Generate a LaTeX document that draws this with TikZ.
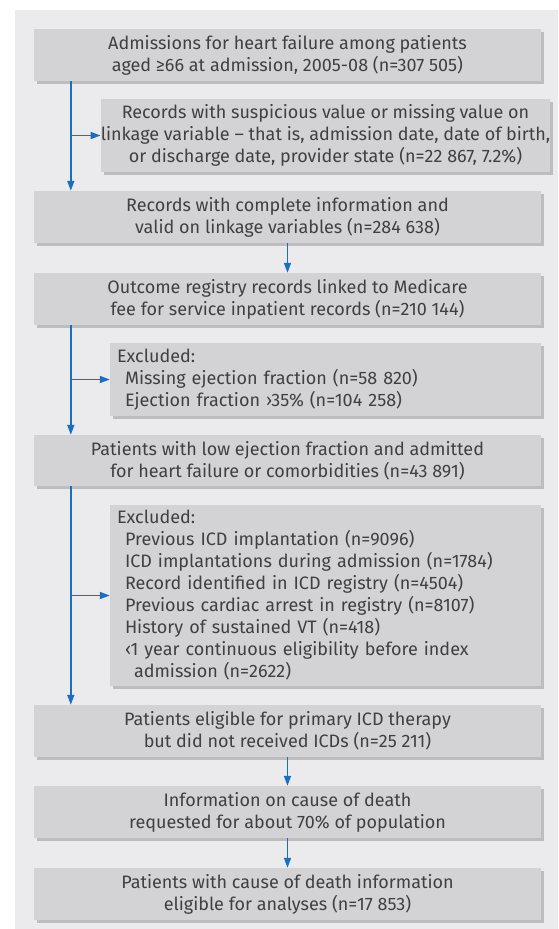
\documentclass[tikz,border=0pt]{standalone}
\usepackage{fontspec}
\setmainfont{Fira Sans}
\usepackage{tikz}
\usetikzlibrary{calc, shadows, arrows.meta}
\definecolor{panelgray}{HTML}{EBEBED}
\definecolor{boxgray}{HTML}{D3D3D5}
\definecolor{shadegray}{HTML}{BDBDBF}
\definecolor{textgray}{HTML}{404040}
\definecolor{arrowblue}{HTML}{1A6FBE}
\tikzset{%
	flowbox/.style={fill=boxgray, text=textgray, inner sep=0pt, minimum height=#1,
	drop shadow={shadow xshift=3pt, shadow yshift=-3pt, fill=shadegray, opacity=1},
	font=\fontsize{18}{22}\selectfont},
	mainbox/.style={flowbox=#1, minimum width=507pt, align=center},
	sidebox/.style={flowbox=#1, inner xsep=7pt, text width=417pt, align=left},
	flow/.style={draw=arrowblue, line width=1.6pt, -{Triangle[length=10pt,width=7pt]}}
}
\begin{document}
\begin{tikzpicture}[x=1pt, y=-1pt]
				\useasboundingbox (0,0) rectangle (558,929);
				\fill [panelgray] (15,10) rectangle (558,929);
				\node [mainbox=52pt] (admit) at (287.5,55) {Admissions for heart failure among patients\\aged ≥66 at admission, 2005-08 (n=307 505)};
				\node [flowbox=73pt, minimum width=431pt, align=center] (suspect) at (325.5,135.5) {Records with suspicious value or missing value on\\linkage variable – that is, admission date, date of birth,\\or discharge date, provider state (n=22 867, 7.2\%)};
				\node [mainbox=52pt] (valid) at (287.5,217) {Records with complete information and\\valid on linkage variables (n=284 638)};
				\node [mainbox=52pt] (linked) at (287.5,299) {Outcome registry records linked to Medicare\\fee for service inpatient records (n=210 144)};
				\node [sidebox=73pt] (exclA) at (325.5,379.5) {Excluded:\\\hspace*{8pt}Missing ejection fraction (n=58 820)\\\hspace*{8pt}Ejection fraction ›35\% (n=104 258)};
				\node [mainbox=51pt] (lowef) at (287.5,460.5) {Patients with low ejection fraction and admitted\\for heart failure or comorbidities (n=43 891)};
				\node [sidebox=181pt] (exclB) at (325.5,595.5) {Excluded:\\\hspace*{8pt}Previous ICD implantation (n=9096)\\\hspace*{8pt}ICD implantations during admission (n=1784)\\\hspace*{8pt}Record identified in ICD registry (n=4504)\\\hspace*{8pt}Previous cardiac arrest in registry (n=8107)\\\hspace*{8pt}History of sustained VT (n=418)\\\hspace*{8pt}‹1 year continuous eligibility before index\\\hspace*{17pt}admission (n=2622)};
				\node [mainbox=52pt] (eligible) at (287.5,731) {Patients eligible for primary ICD therapy\\but did not received ICDs (n=25 211)};
				\node [mainbox=52pt] (request) at (287.5,812) {Information on cause of death\\requested for about 70\% of population};
				\node [mainbox=52pt] (final) at (287.5,894) {Patients with cause of death information\\eligible for analyses (n=17 853)};
				\coordinate (trunkA) at ($(admit.south west)+(37,0)$);
				\coordinate (trunkB) at ($(linked.south west)+(37,0)$);
				\coordinate (trunkC) at ($(lowef.south west)+(37,0)$);
				\draw [flow] (trunkA) -- (trunkA |- valid.north);
				\draw [flow] (trunkA |- suspect.west) -- (suspect.west);
				\draw [flow] (valid) -- (linked);
				\draw [flow] (trunkB) -- (trunkB |- lowef.north);
				\draw [flow] (trunkB |- exclA.west) -- (exclA.west);
				\draw [flow] (trunkC) -- (trunkC |- eligible.north);
				\draw [flow] (trunkC |- exclB.west) -- (exclB.west);
				\draw [flow] (eligible) -- (request);
				\draw [flow] (request) -- (final);
\end{tikzpicture}
\end{document}
